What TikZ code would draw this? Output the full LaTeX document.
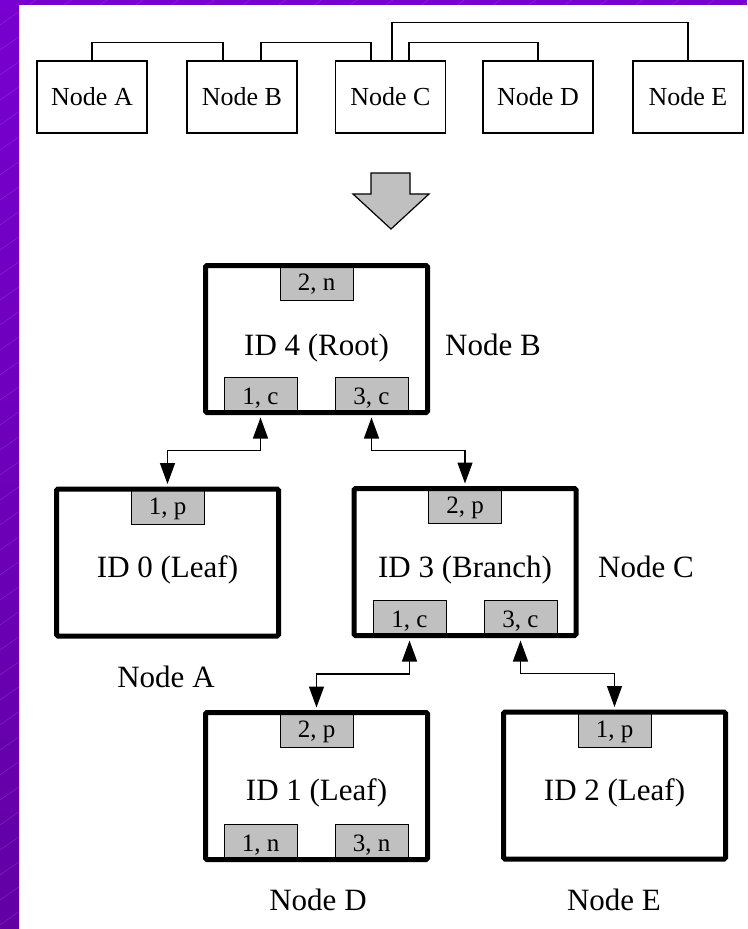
\documentclass[tikz,border=0pt]{standalone}
\usepackage{fontspec}
\setmainfont{Liberation Serif}
\usetikzlibrary{arrows.meta,backgrounds,calc}
\definecolor{portgray}{RGB}{192,192,192}
\definecolor{purpA}{RGB}{120,0,208}
\definecolor{purpB}{RGB}{98,0,164}
\definecolor{purpLine}{RGB}{170,110,230}
\begin{document}
\begin{tikzpicture}[x=1pt,y=-1pt,
  toprow/.style={draw, line width=1.5pt, minimum width=110pt, minimum height=72pt, inner sep=0pt,
    font=\fontsize{26}{30}\selectfont, text height=17.2pt, text depth=0pt},
  bigbox/.style={draw, line width=5pt, rounded corners=1.5pt, minimum width=222pt, minimum height=147pt, inner sep=0pt},
  port/.style={draw, line width=1pt, fill=portgray, minimum width=73pt, minimum height=37pt, inner sep=0pt,
    font=\fontsize{25}{28}\selectfont, text height=17pt, text depth=0pt},
  idtext/.style={font=\fontsize{31}{36}\selectfont, inner sep=0pt, anchor=base},
  tag/.style={font=\fontsize{31}{36}\selectfont, inner sep=0pt, anchor=base},
  link/.style={line width=1.5pt},
  conn/.style={line width=1.4pt, {Triangle[length=21pt,width=15pt]}-{Triangle[length=21pt,width=15pt]}},
  bigarrow/.style={draw, line width=1.2pt, fill=portgray, line join=miter}
]
\useasboundingbox (0,0) rectangle (747,929);
% purple frame
\fill[top color=purpA, bottom color=purpB] (0,0) rectangle (19,929);
\fill[purpA] (0,0) rectangle (747,5);
\begin{scope}
  \clip (0,0) rectangle (19,929) (19,0) rectangle (747,5);
  \foreach \k in {0,...,38}
    \draw[purpLine, line width=0.5pt, opacity=0.35] (0,{25*\k}) -- ++(1000,-700);
\end{scope}

% top row
\node[toprow] (nA) at (92,97) {Node A};
\node[toprow] (nB) at (242,97) {Node B};
\node[toprow] (nC) at (390.5,97) {Node C};
\node[toprow] (nD) at (538,97) {Node D};
\node[toprow] (nE) at (688,97) {Node E};
\draw[link] (nA.north) -- ++(0,-18) -| ([xshift=-19pt]nB.north);
\draw[link] ([xshift=19pt]nB.north) -- ++(0,-18) -| ([xshift=-19.5pt]nC.north);
\draw[link] ([xshift=18.5pt]nC.north) -- ++(0,-18) -| (nD.north);
\draw[link] ([xshift=1.5pt]nC.north) -- ++(0,-38) -| (nE.north);

% big arrow
\draw[bigarrow] (371,173) -- (410,173) -- (410,194) -- (429,194) -- (391,229) -- (353,194) -- (371,194) -- cycle;

% tree boxes
\node[bigbox] (r) at (316.5,339) {};
\node[bigbox] (l0) at (167.5,562.5) {};
\node[bigbox] (b3) at (465,562) {};
\node[bigbox] (l1) at (316.5,786) {};
\node[bigbox] (l2) at (614.5,785.5) {};

\begin{pgfonlayer}{background}
  \node[port, anchor=north] (r2n) at (r.north) {2, n};
  \node[port, anchor=south] (r1c) at ([xshift=-56pt]r.south) {1, c};
  \node[port, anchor=south] (r3c) at ([xshift=55pt]r.south) {3, c};
  \node[port, anchor=north] (l0p) at (l0.north) {1, p};
  \node[port, anchor=north] (b2p) at (b3.north) {2, p};
  \node[port, anchor=south] (b1c) at ([xshift=-55.5pt]b3.south) {1, c};
  \node[port, anchor=south] (b3c) at ([xshift=55.5pt]b3.south) {3, c};
  \node[port, anchor=north] (d2p) at (l1.north) {2, p};
  \node[port, anchor=south] (d1n) at ([xshift=-56pt]l1.south) {1, n};
  \node[port, anchor=south] (d3n) at ([xshift=55pt]l1.south) {3, n};
  \node[port, anchor=north] (e1p) at (l2.north) {1, p};
\end{pgfonlayer}

% texts
\node[idtext] (tr) at (316.5,355) {ID 4 (Root)};
\node[idtext] (t0) at (167.5,577) {ID 0 (Leaf)};
\node[idtext] (t3) at (465,577) {ID 3 (Branch)};
\node[idtext] (t1) at (316.5,800) {ID 1 (Leaf)};
\node[idtext] (t2) at (614.5,800) {ID 2 (Leaf)};
\node[tag] (gB) at (493,355) {Node B};
\node[tag] (gC) at (646,577) {Node C};
\node[tag] (gA) at (166,687) {Node A};
\node[tag] (gD) at (318,910) {Node D};
\node[tag] (gE) at (614,910) {Node E};

% connectors
\draw[conn] ([yshift=-2.5pt]r1c.south) |- ($(r1c.south)!.5!(l0p.north)$) -| ([yshift=2.5pt]l0p.north);
\draw[conn] ([yshift=-2.5pt]r3c.south) |- ($(r3c.south)!.5!(b2p.north)$) -| ([yshift=2.5pt]b2p.north);
\draw[conn] ([yshift=-2.5pt]b1c.south) |- ($(b1c.south)!.5!(d2p.north)$) -| ([yshift=2.5pt]d2p.north);
\draw[conn] ([yshift=-2.5pt]b3c.south) |- ($(b3c.south)!.5!(e1p.north)$) -| ([yshift=2.5pt]e1p.north);
\end{tikzpicture}
\end{document}
